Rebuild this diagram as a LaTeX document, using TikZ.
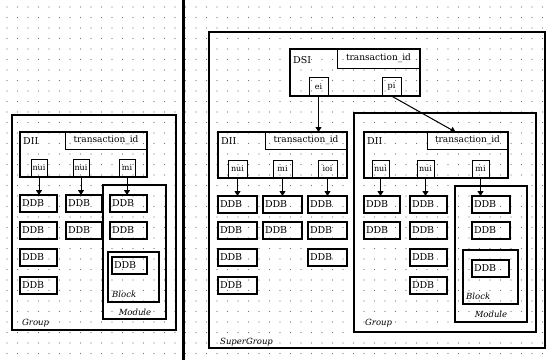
\documentclass[tikz,border=0pt]{standalone}
\usepackage{fontspec}
\setmainfont{DejaVu Serif}
\usetikzlibrary{arrows.meta}
\begin{document}
\begin{tikzpicture}[x=1pt,y=-1pt,
  base/.style={draw, inner sep=0pt, outer sep=0pt, anchor=north west},
  container/.style={base, line width=1.6pt},
  ddb/.style={base, line width=2.2pt, minimum height=17pt, align=left, text width=#1-4pt, inner xsep=2pt, font=\fontsize{9.5}{10}\selectfont},
  ddb/.default=37pt,
  dbox/.style={base, line width=2pt},
  tid/.style={base, line width=1pt, minimum height=17pt, font=\fontsize{9}{10}\selectfont},
  port/.style={base, line width=1pt, minimum height=18pt, inner xsep=1pt, font=\fontsize{8}{9}\selectfont},
  lbl/.style={anchor=west, inner sep=0pt, font=\fontsize{9.5}{10}\selectfont},
  ital/.style={inner sep=0pt, font=\fontsize{8.5}{9}\selectfont\itshape},
  arr/.style={line width=1pt, -{Triangle[length=5pt,width=6pt]}}
]
\useasboundingbox (0,0) rectangle (550,360);
\fill[white] (0,0) rectangle (550,360);
\foreach \i in {0,...,51} \foreach \j in {0,...,33}
  \fill[black!55] (7+\i*10.5, 7+\j*10.5) circle (0.6pt);

% divider
\draw[line width=3pt] (183,0) -- (183,360);

% ===== Left Group =====
\node[container, minimum width=164pt, minimum height=215pt] (grpL) at (12,115) {};
\node[ital, anchor=west] (grpLl) at (22,323) {Group};
\node[dbox, minimum width=127pt, minimum height=45pt] (diiL) at (20,132) {};
\node[lbl] (diiLl) at (23,141) {DII};
\node[tid, minimum width=82pt] (tidL) at (65,132) {transaction\_id};
\node[port, minimum width=16pt] (pL1) at (31,159) {nui};
\node[port, minimum width=16pt] (pL2) at (73,159) {nui};
\node[port, minimum width=16pt] (pL3) at (119,159) {mi};
\node[ddb=37pt, minimum width=37pt] (dL11) at (20,195) {DDB};
\node[ddb=37pt, minimum width=37pt] (dL12) at (20,222) {DDB};
\node[ddb=37pt, minimum width=37pt] (dL13) at (20,249) {DDB};
\node[ddb=37pt, minimum width=37pt] (dL14) at (20,277) {DDB};
\node[ddb=36pt, minimum width=36pt] (dL21) at (66,195) {DDB};
\node[ddb=36pt, minimum width=36pt] (dL22) at (66,222) {DDB};
\node[container, minimum width=63pt, minimum height=134pt] (modL) at (103,185) {};
\node[ddb=37pt, minimum width=37pt] (dL31) at (110,195) {DDB};
\node[ddb=37pt, minimum width=37pt] (dL32) at (110,222) {DDB};
\node[dbox, minimum width=51pt, minimum height=50pt] (blkL) at (108,252) {};
\node[ddb=35pt, minimum width=35pt] (dL33) at (112,257) {DDB};
\node[ital, anchor=west] (blkLl) at (112,294) {Block};
\node[ital] (modLl) at (135,312) {Module};
\draw[arr] (pL1.south) -- (pL1.south |- dL11.north);
\draw[arr] (pL2.south) -- (pL2.south |- dL21.north);
\draw[arr] (pL3.south) -- (pL3.south |- dL31.north);

% ===== SuperGroup =====
\node[container, line width=1.3pt, minimum width=336pt, minimum height=316pt] (sg) at (209,32) {};
\node[ital, anchor=west] (sgl) at (220,342) {SuperGroup};

\node[dbox, minimum width=130pt, minimum height=47pt] (dsi) at (290,49) {};
\node[lbl] (dsil) at (293,60) {DSI};
\node[tid, minimum width=83pt, minimum height=19pt] (tidS) at (337,49) {transaction\_id};
\node[port, minimum width=19pt, minimum height=19pt] (ei) at (309,77) {ei};
\node[port, minimum width=19pt, minimum height=19pt] (pi) at (382,77) {pi};

% DII 1
\node[dbox, minimum width=129pt, minimum height=46pt] (dii1) at (218,132) {};
\node[lbl] (dii1l) at (221,141) {DII};
\node[tid, minimum width=82pt] (tid1) at (265,132) {transaction\_id};
\node[port, minimum width=19pt] (p11) at (228,160) {nui};
\node[port, minimum width=19pt] (p12) at (273,160) {mi};
\node[port, minimum width=19pt] (p13) at (318,160) {ioi};
\node[ddb=39pt, minimum width=39pt] (d111) at (218,196) {DDB};
\node[ddb=39pt, minimum width=39pt] (d112) at (218,222) {DDB};
\node[ddb=39pt, minimum width=39pt] (d113) at (218,249) {DDB};
\node[ddb=39pt, minimum width=39pt] (d114) at (218,277) {DDB};
\node[ddb=39pt, minimum width=39pt] (d121) at (263,196) {DDB};
\node[ddb=39pt, minimum width=39pt] (d122) at (263,222) {DDB};
\node[ddb=39pt, minimum width=39pt] (d131) at (308,196) {DDB};
\node[ddb=39pt, minimum width=39pt] (d132) at (308,222) {DDB};
\node[ddb=39pt, minimum width=39pt] (d133) at (308,249) {DDB};
\draw[arr] (p11.south) -- (p11.south |- d111.north);
\draw[arr] (p12.south) -- (p12.south |- d121.north);
\draw[arr] (p13.south) -- (p13.south |- d131.north);

% Group R
\node[container, minimum width=182pt, minimum height=219pt] (grpR) at (354,113) {};
\node[ital, anchor=west] (grpRl) at (365,323) {Group};
\node[dbox, minimum width=144pt, minimum height=46pt] (dii2) at (364,132) {};
\node[lbl] (dii2l) at (367,141) {DII};
\node[tid, minimum width=81pt] (tid2) at (427,132) {transaction\_id};
\node[port, minimum width=17pt] (p21) at (372,160) {nui};
\node[port, minimum width=17pt] (p22) at (417,160) {nui};
\node[port, minimum width=17pt] (p23) at (472,160) {mi};
\node[ddb=36pt, minimum width=36pt] (d211) at (364,196) {DDB};
\node[ddb=36pt, minimum width=36pt] (d212) at (364,222) {DDB};
\node[ddb=37pt, minimum width=37pt] (d221) at (410,196) {DDB};
\node[ddb=37pt, minimum width=37pt] (d222) at (410,222) {DDB};
\node[ddb=37pt, minimum width=37pt] (d223) at (410,249) {DDB};
\node[ddb=37pt, minimum width=37pt] (d224) at (410,277) {DDB};
\node[container, minimum width=72pt, minimum height=136pt] (modR) at (455,186) {};
\node[ddb=38pt, minimum width=38pt] (d231) at (472,196) {DDB};
\node[ddb=38pt, minimum width=38pt] (d232) at (472,222) {DDB};
\node[dbox, minimum width=55pt, minimum height=54pt] (blkR) at (463,250) {};
\node[ddb=37pt, minimum width=37pt] (d233) at (472,260) {DDB};
\node[ital, anchor=west] (blkRl) at (466,296) {Block};
\node[ital] (modRl) at (491,314) {Module};
\draw[arr] (p21.south) -- (p21.south |- d211.north);
\draw[arr] (p22.south) -- (p22.south |- d221.north);
\draw[arr] (p23.south) -- (p23.south |- d231.north);

% DSI connectors
\draw[arr] (ei.south) -- (ei.south |- dii1.north);
\draw[arr] (pi.south) -- ([xshift=-12pt]tid2.north);
\end{tikzpicture}
\end{document}
